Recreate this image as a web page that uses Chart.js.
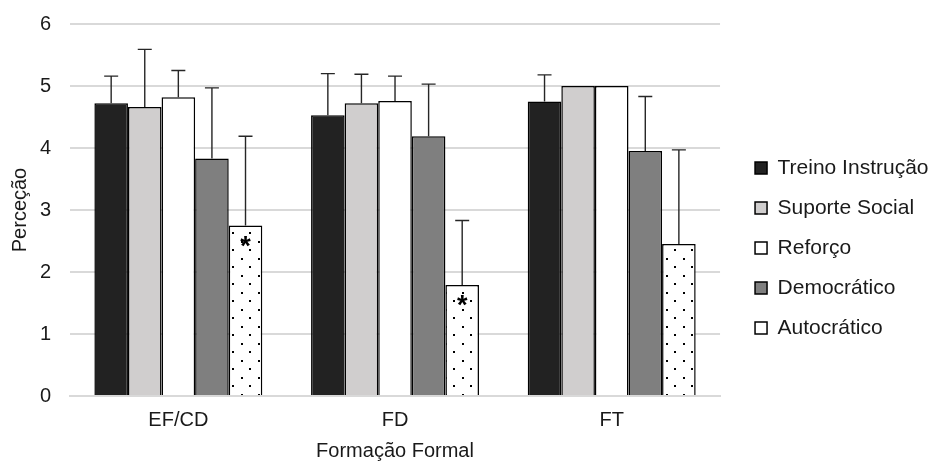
<!DOCTYPE html>
<html>
<head>
<meta charset="utf-8">
<script src="https://cdn.jsdelivr.net/npm/chart.js@4.4.0/dist/chart.umd.min.js"></script>
<style>
  html, body { margin: 0; padding: 0; background: #fff; }
  #wrap { width: 930px; height: 464px; }
</style>
</head>
<body>
<div id="wrap"><canvas id="chart"></canvas></div>
<script>
// categories and series
const categories = ['EF/CD', 'FD', 'FT'];
const seriesNames = ['Treino Instrução', 'Suporte Social', 'Reforço', 'Democrático', 'Autocrático'];
const yTicks = [0, 1, 2, 3, 4, 5, 6];

// means
const treinoInstrucao = [4.72, 4.53, 4.75];
const suporteSocial = [4.66, 4.72, 5.00];
const reforco = [4.82, 4.76, 5.00];
const democratico = [3.83, 4.19, 3.95];
const autocratico = [2.75, 1.79, 2.45];

// standard deviations (upper error bars only)
const treinoInstrucaoSd = [0.44, 0.67, 0.43];
const suporteSocialSd = [0.93, 0.47, null];
const reforcoSd = [0.43, 0.40, null];
const democraticoSd = [1.14, 0.84, 0.88];
const autocraticoSd = [1.44, 1.04, 1.52];

// significance marks on the Autocrático bars
const autocraticoMarks = ['*', '*', ''];

const textColor = '#1a1a1a';

function dotPattern() {
    const c = document.createElement('canvas');
    c.width = 17;
    c.height = 17;
    const g = c.getContext('2d');
    g.fillStyle = '#ffffff';
    g.fillRect(0, 0, 17, 17);
    g.fillStyle = '#000000';
    g.fillRect(3, 3, 2, 2);
    g.fillRect(11, 11, 2, 2);
    return g.createPattern(c, 'repeat');
}

const errorBars = {
    id: 'errorBars',
    afterDatasetsDraw(chart) {
        const ctx = chart.ctx;
        const yScale = chart.scales.y;
        chart.data.datasets.forEach((ds, i) => {
            const meta = chart.getDatasetMeta(i);
            meta.data.forEach((bar, j) => {
                const sd = ds.errors[j];
                if (sd == null) return;
                const top = yScale.getPixelForValue(ds.data[j] + sd);
                ctx.save();
                ctx.strokeStyle = '#262626';
                ctx.lineWidth = 1.4;
                ctx.beginPath();
                ctx.moveTo(bar.x, bar.y);
                ctx.lineTo(bar.x, top);
                ctx.moveTo(bar.x - 7, top);
                ctx.lineTo(bar.x + 7, top);
                ctx.stroke();
                ctx.restore();
            });
            // asterisks
            if (ds.marks) {
                meta.data.forEach((bar, j) => {
                    if (!ds.marks[j]) return;
                    ctx.save();
                    ctx.fillStyle = '#000';
                    ctx.font = 'bold 27px "Liberation Sans", Arial, sans-serif';
                    ctx.textAlign = 'center';
                    ctx.textBaseline = 'alphabetic';
                    ctx.fillText(ds.marks[j], bar.x, bar.y + 29);
                    ctx.restore();
                });
            }
        });
    }
};

// nudge the legend column to where the reference has it
const legendPlacement = {
    id: 'legendPlacement',
    afterLayout(chart) {
        const lg = chart.legend;
        lg.left += 16;
        lg.right += 16;
        lg.top += 16;
        lg.bottom += 16;
    }
};

const fills = ['#222222', '#d0cece', '#ffffff', '#7f7f7f', dotPattern()];
const values = [treinoInstrucao, suporteSocial, reforco, democratico, autocratico];
const errors = [treinoInstrucaoSd, suporteSocialSd, reforcoSd, democraticoSd, autocraticoSd];

const datasets = seriesNames.map((name, i) => ({
    label: name,
    data: values[i],
    errors: errors[i],
    marks: i === 4 ? autocraticoMarks : null,
    backgroundColor: fills[i],
    borderColor: '#000000',
    borderWidth: 1.5,
    categoryPercentage: 0.775,
    barPercentage: 1.0
}));

Chart.defaults.font.family = '"Liberation Sans", Arial, sans-serif';
Chart.defaults.color = textColor;

new Chart(document.getElementById('chart').getContext('2d'), {
    type: 'bar',
    data: { labels: categories, datasets: datasets },
    plugins: [errorBars, legendPlacement],
    options: {
        responsive: true,
        maintainAspectRatio: false,
        animation: false,
        layout: { padding: { top: 0, left: 4, right: 7.5, bottom: 0 } },
        plugins: {
            legend: {
                position: 'right',
                labels: {
                    boxWidth: 12,
                    boxHeight: 12,
                    padding: 19,
                    font: { size: 21 },
                    color: textColor
                }
            },
            tooltip: { enabled: false }
        },
        scales: {
            x: {
                grid: { display: false, drawTicks: false },
                border: { color: '#d9d9d9', width: 2 },
                ticks: { font: { size: 20 }, padding: 12, color: textColor },
                title: { display: true, text: 'Formação Formal', font: { size: 20 }, padding: { top: 7, bottom: 1 }, color: textColor },
                afterFit: scale => { scale.height = 68; }
            },
            y: {
                min: 0,
                max: 6,
                afterBuildTicks: axis => { axis.ticks = yTicks.map(v => ({ value: v })); },
                grid: { color: '#d9d9d9', lineWidth: 2, drawTicks: true, tickLength: 7, tickColor: 'rgba(0,0,0,0)' },
                border: { display: false },
                ticks: { font: { size: 20 }, padding: 12, color: textColor },
                title: { display: true, text: 'Perceção', font: { size: 20 }, padding: { top: 4, bottom: 4 }, color: textColor },
                afterFit: scale => { scale.width = 66; }
            }
        }
    }
});
</script>
</body>
</html>
